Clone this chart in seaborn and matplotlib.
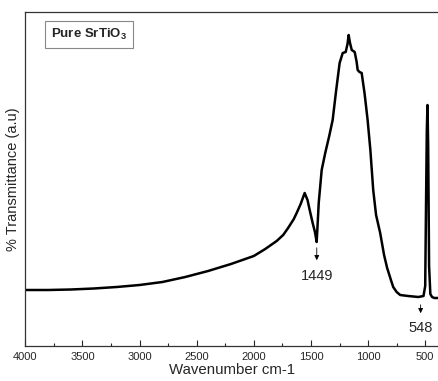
import numpy as np
import pandas as pd
import seaborn as sns
import matplotlib
import matplotlib.pyplot as plt
from matplotlib.ticker import MultipleLocator

matplotlib.use('Agg')
sns.set_style("ticks")
plt.rcParams['font.family'] = ['Liberation Sans', 'DejaVu Sans']

wavenumber = [4000, 3800, 3600, 3400, 3200, 3000, 2800, 2600, 2400, 2200,
              2000, 1900, 1800, 1743, 1700, 1650, 1625, 1590, 1555, 1530, 1511,
              1485, 1465, 1450, 1440, 1432, 1406, 1375, 1340, 1310, 1280,
              1249, 1222, 1196, 1180, 1170, 1158, 1143, 1117, 1100, 1091,
              1075, 1056, 1030, 1004, 980, 955, 930, 894, 860, 833,
              800, 780, 750, 719, 650, 560, 515, 500, 492, 486,
              480, 474, 466, 455, 440, 420, 390]
transmittance = [56, 56, 56.5, 57.5, 59, 61, 64, 69, 75, 82,
                 90, 97, 105, 111, 118, 127, 133, 142, 153, 146, 136,
                 123, 114, 104, 125, 143, 176, 193, 210, 226, 255,
                 283, 293, 294, 302, 311, 303, 296, 294, 284, 276,
                 274, 273, 252, 226, 196, 156, 131, 113, 91, 78,
                 66, 59, 54, 51, 50, 49, 50, 60, 150, 215,
                 241, 200, 80, 52, 49, 48, 48]
etiquetas = [(1449, '1449'), (548, '548')]

df = pd.DataFrame({'Wavenumber': wavenumber, 'T': transmittance})

fig = plt.figure(figsize=(4.38, 3.81), dpi=100)
ax = fig.add_axes([25.3 / 438, 1 - 346 / 381, 1 - 25.3 / 438, (346 - 12) / 381])

sns.lineplot(data=df, x='Wavenumber', y='T', color='black', linewidth=1.8, ax=ax, sort=False)

ax.set_xlim(4000, 388)
ax.set_ylim(0, 334)

# Flechas de los picos
ax.annotate('', xy=(1449, 83), xytext=(1449, 101),
            arrowprops=dict(arrowstyle='-|>', color='black', lw=0.6, mutation_scale=7))
ax.text(1449, 70, etiquetas[0][1], ha='center', va='center', fontsize=10.5)
ax.annotate('', xy=(540, 30), xytext=(540, 44),
            arrowprops=dict(arrowstyle='-|>', color='black', lw=0.6, mutation_scale=7))
ax.text(540, 18, etiquetas[1][1], ha='center', va='center', fontsize=10.5)

# Recuadro de la muestra
ax.text(0.062, 0.932, r'Pure SrTiO$_\mathregular{3}$', transform=ax.transAxes, fontsize=9.5,
        fontweight='bold', ha='left', va='center',
        bbox=dict(boxstyle='square,pad=0.45', facecolor='white', edgecolor='#888888', lw=0.8))

ax.xaxis.set_major_locator(MultipleLocator(500))
ax.xaxis.set_minor_locator(MultipleLocator(250))
ax.tick_params(axis='x', which='major', direction='in', length=4.5, width=0.8, labelsize=8, pad=4)
ax.tick_params(axis='x', which='minor', direction='in', length=2.5, width=0.8)
ax.set_yticks([])
ax.set_xlabel('Wavenumber cm-1', fontsize=10.8, labelpad=1)
ax.set_ylabel('% Transmittance (a.u)', fontsize=10.5, labelpad=4)

for lado in ['left', 'bottom', 'top']:
    ax.spines[lado].set_linewidth(0.9)
    ax.spines[lado].set_color('#333333')
ax.spines['right'].set_visible(False)

plt.savefig('out.png', dpi=100)
